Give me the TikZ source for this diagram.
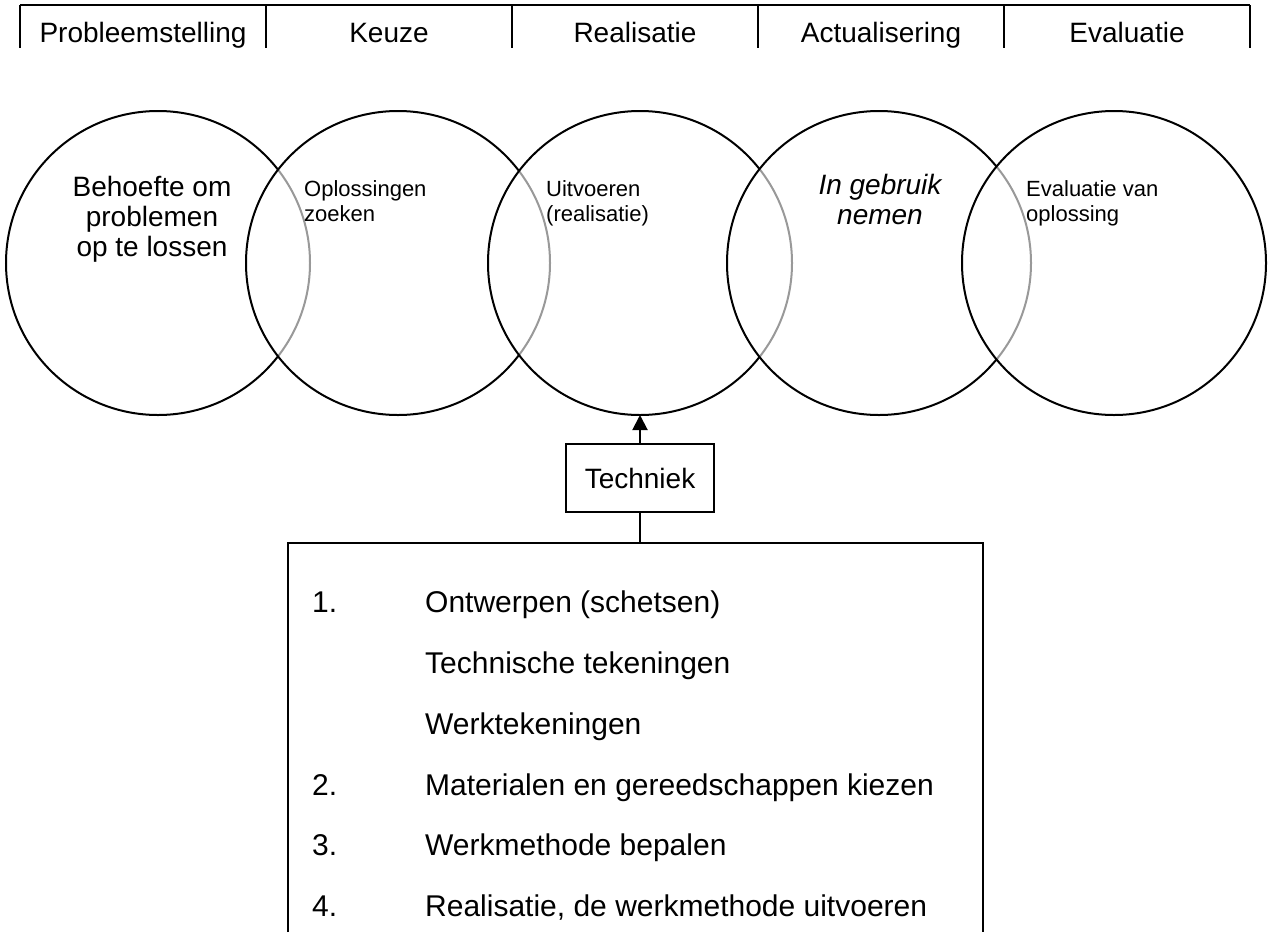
\documentclass[tikz,border=0pt]{standalone}
\usepackage{fontspec}
\setmainfont{Liberation Sans}
\usetikzlibrary{arrows.meta}
\tikzset{
  big/.style={font=\fontsize{28}{30}\selectfont},
  small/.style={font=\fontsize{22}{25}\selectfont, align=left, anchor=north west, inner sep=0pt},
  listtxt/.style={font=\fontsize{30}{33}\selectfont, anchor=base west, inner sep=0pt},
  phase/.style={big, anchor=base, inner sep=0pt},
  bubble/.style={circle, draw=black, line width=2pt, fill=white, fill opacity=0.6, minimum size=304pt, inner sep=0pt, outer sep=0pt},
  boxline/.style={line width=2.5pt},
  techbox/.style={draw, line width=2pt, big, minimum width=148pt, minimum height=68pt, inner sep=0pt},
}
\begin{document}
\begin{tikzpicture}[x=1pt,y=-1pt]
\useasboundingbox (0,0) rectangle (1268,932);
% top bar
\draw[line width=2.5pt] (20,5) -- (1250,5);
\foreach \xx in {20,266,512,758,1004,1250} \draw[line width=2.5pt] (\xx,5) -- (\xx,48);
\node[phase] (p1) at (143,42) {Probleemstelling};
\node[phase] (p2) at (389,42) {Keuze};
\node[phase] (p3) at (635,42) {Realisatie};
\node[phase] (p4) at (881,42) {Actualisering};
\node[phase] (p5) at (1127,42) {Evaluatie};
% circles
\node[bubble] (c1) at (158,263) {};
\node[bubble] (c2) at (398,263) {};
\node[bubble] (c3) at (640,263) {};
\node[bubble] (c4) at (879,263) {};
\node[bubble] (c5) at (1114,263) {};
% circle texts
\node[big, align=center, anchor=north, inner sep=0pt] (t1) at (152,176) {Behoefte om\\problemen\\op te lossen};
\node[small] (t2) at (304,180) {Oplossingen\\zoeken};
\node[small] (t3) at (546,180) {Uitvoeren\\(realisatie)};
\node[big, align=center, anchor=north, inner sep=0pt, font=\fontsize{28}{30}\selectfont\itshape] (t4) at (880,174) {In gebruik\\nemen};
\node[small] (t5) at (1026,180) {Evaluatie van\\oplossing};
% Techniek
\node[techbox] (tech) at (640,478) {Techniek};
\draw[line width=2pt, -{Triangle[width=15pt,length=15pt]}] (tech.north) -- (c3.south);
\coordinate (bt) at (640,543);
\draw[line width=2pt] (tech.south) -- (bt);
\draw[boxline] (288,932) -- (288,543) -- (983,543) -- (983,932);
% list
\node[listtxt] (n1) at (312,612) {1.};
\node[listtxt] (l1) at (425,612) {Ontwerpen (schetsen)};
\node[listtxt] (l1b) at (425,673) {Technische tekeningen};
\node[listtxt] (l1c) at (425,734) {Werktekeningen};
\node[listtxt] (n2) at (312,795) {2.};
\node[listtxt] (l2) at (425,795) {Materialen en gereedschappen kiezen};
\node[listtxt] (n3) at (312,855) {3.};
\node[listtxt] (l3) at (425,855) {Werkmethode bepalen};
\node[listtxt] (n4) at (312,916) {4.};
\node[listtxt] (l4) at (425,916) {Realisatie, de werkmethode uitvoeren};
\end{tikzpicture}
\end{document}
